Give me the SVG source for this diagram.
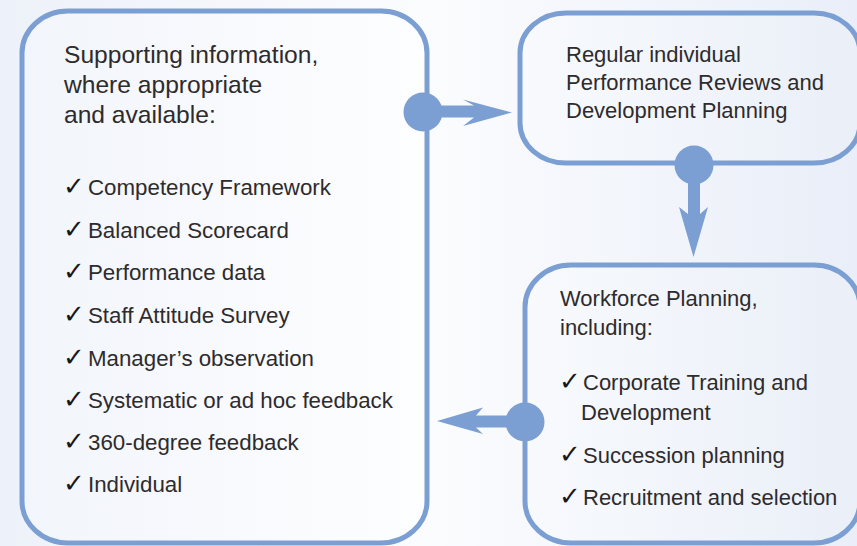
<svg xmlns="http://www.w3.org/2000/svg" width="857" height="546" viewBox="0 0 857 546">
  <defs>
    <linearGradient id="bg" gradientUnits="userSpaceOnUse" x1="0" y1="0" x2="857" y2="0">
      <stop offset="0" stop-color="#edf1f9"/>
      <stop offset="0.5" stop-color="#fbfcfe"/>
      <stop offset="1" stop-color="#e9eef8"/>
    </linearGradient>
    <linearGradient id="fillL" gradientUnits="userSpaceOnUse" x1="22" y1="0" x2="427" y2="0">
      <stop offset="0" stop-color="#f2f5fb"/>
      <stop offset="1" stop-color="#fdfeff"/>
    </linearGradient>
    <linearGradient id="fillR" gradientUnits="userSpaceOnUse" x1="520" y1="0" x2="857" y2="0">
      <stop offset="0" stop-color="#f8fafd"/>
      <stop offset="1" stop-color="#eaeff8"/>
    </linearGradient>
  </defs>
  <style>
    .box { stroke: #7c9fd3; stroke-width: 5; }
    .link { fill: #7c9fd3; }
    text { font-family: "Liberation Sans", Arial, "DejaVu Sans", sans-serif; fill: #2e2b2c; }
    .head { font-size: 24.6px; }
    .item { font-size: 22.3px; }
    .rt { font-size: 22px; }
    .tick { font-family: "DejaVu Sans", sans-serif; font-size: 26px; fill: #1a1718; }
  </style>

  <rect x="0" y="0" width="857" height="546" fill="url(#bg)"/>

  <!-- supporting information -->
  <g id="supporting-info">
    <rect class="box" x="22" y="11" width="405" height="532" rx="46" ry="42" fill="url(#fillL)"/>
    <text class="head" x="64" y="63">Supporting information,</text>
    <text class="head" x="64" y="93">where appropriate</text>
    <text class="head" x="64" y="123">and available:</text>
    <text class="item" y="195"><tspan class="tick" x="63">✓</tspan><tspan x="88">Competency Framework</tspan></text>
    <text class="item" y="238"><tspan class="tick" x="63">✓</tspan><tspan x="88">Balanced Scorecard</tspan></text>
    <text class="item" y="280"><tspan class="tick" x="63">✓</tspan><tspan x="88">Performance data</tspan></text>
    <text class="item" y="323"><tspan class="tick" x="63">✓</tspan><tspan x="88">Staff Attitude Survey</tspan></text>
    <text class="item" y="366"><tspan class="tick" x="63">✓</tspan><tspan x="88">Manager’s observation</tspan></text>
    <text class="item" y="408"><tspan class="tick" x="63">✓</tspan><tspan x="88">Systematic or ad hoc feedback</tspan></text>
    <text class="item" y="450"><tspan class="tick" x="63">✓</tspan><tspan x="88">360-degree feedback</tspan></text>
    <text class="item" y="492"><tspan class="tick" x="63">✓</tspan><tspan x="88">Individual</tspan></text>
  </g>

  <!-- reviews -->
  <g id="reviews">
    <rect class="box" x="520" y="13" width="340" height="150" rx="46" ry="40" fill="url(#fillR)"/>
    <text class="rt" x="566" y="62">Regular individual</text>
    <text class="rt" x="566" y="90">Performance Reviews and</text>
    <text class="rt" x="566" y="118">Development Planning</text>
  </g>

  <!-- workforce planning -->
  <g id="workforce">
    <rect class="box" x="525" y="265" width="335" height="278" rx="46" ry="42" fill="url(#fillR)"/>
    <text class="rt" x="560" y="306">Workforce Planning,</text>
    <text class="rt" x="560" y="335">including:</text>
    <text class="rt" y="390"><tspan class="tick" x="559">✓</tspan><tspan x="583">Corporate Training and</tspan></text>
    <text class="rt" x="581" y="420">Development</text>
    <text class="rt" y="463"><tspan class="tick" x="559">✓</tspan><tspan x="583">Succession planning</tspan></text>
    <text class="rt" y="505"><tspan class="tick" x="559">✓</tspan><tspan x="583">Recruitment and selection</tspan></text>
  </g>

  <!-- connectors: dot on the source edge, barbed arrow to the target -->
  <g id="connectors" class="link">
    <circle cx="423" cy="112" r="19.5"/>
    <polygon points="423,105.5 474,105.5 463,99.5 512,112.5 463,126 474,117.5 423,117.5"/>

    <circle cx="694" cy="165" r="19.5"/>
    <polygon points="688,165 688,214 679,207 693.5,257 708,207 700,214 700,165"/>

    <circle cx="525" cy="422" r="19.5"/>
    <polygon points="525,415.5 476,415.5 483,407.5 437,421 483,434 476,427.5 525,427.5"/>
  </g>
</svg>
